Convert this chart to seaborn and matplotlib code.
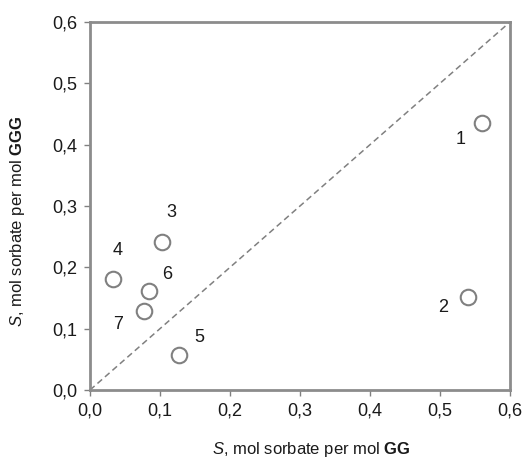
import matplotlib
matplotlib.use("Agg")
import matplotlib.pyplot as plt
import seaborn as sns
import pandas as pd

labels = ["1", "2", "3", "4", "5", "6", "7"]
s_gg = [0.560, 0.540, 0.103, 0.033, 0.127, 0.084, 0.077]
s_ggg = [0.436, 0.152, 0.241, 0.181, 0.057, 0.161, 0.129]
# label offsets (data units) relative to each point
lab_dx = [-0.031, -0.036, 0.013, 0.007, 0.029, 0.026, -0.037]
lab_dy = [-0.028, -0.018, 0.049, 0.046, 0.029, 0.028, -0.023]
ticks = [0.0, 0.1, 0.2, 0.3, 0.4, 0.5, 0.6]
tick_labels = ["0,0", "0,1", "0,2", "0,3", "0,4", "0,5", "0,6"]

sns.set_theme(style="white")
plt.rcParams['font.family'] = ['Liberation Sans', 'DejaVu Sans']
plt.rcParams['mathtext.fontset'] = 'custom'
plt.rcParams['mathtext.rm'] = 'Liberation Sans'
plt.rcParams['mathtext.it'] = 'Liberation Sans:italic'
plt.rcParams['mathtext.bf'] = 'Liberation Sans:bold'

df = pd.DataFrame({"x": s_gg, "y": s_ggg, "label": labels})

fig = plt.figure(figsize=(5.25, 4.58), dpi=100)
ax = fig.add_axes([90/525, 68/458, 420/525, 368/458])

ax.plot([0, 0.6], [0, 0.6], ls=(0, (4, 2.5)), color="#808080", lw=1.1, zorder=1)
sns.scatterplot(data=df, x="x", y="y", ax=ax, s=125, facecolor="white",
                edgecolor="#808080", linewidth=1.5, zorder=3)

for lab, x, y, dx, dy in zip(labels, s_gg, s_ggg, lab_dx, lab_dy):
    ax.text(x + dx, y + dy, lab, ha="center", va="center", fontsize=13,
            color="#1a1a1a")

ax.set_xlim(0, 0.6)
ax.set_ylim(0, 0.6)
ax.set_xticks(ticks)
ax.set_xticklabels(tick_labels)
ax.set_yticks(ticks)
ax.set_yticklabels(tick_labels)
ax.tick_params(axis="both", which="major", direction="out", length=4, width=1,
               color="#808080", labelsize=13, labelcolor="#1a1a1a", pad=5,
               bottom=True, left=True, top=False, right=False)
for sp in ax.spines.values():
    sp.set_color("#8c8c8c")
    sp.set_linewidth(2)

ax.set_xlabel(r"$\mathit{S}$, mol sorbate per mol $\mathbf{GG}$", fontsize=12,
              color="#1a1a1a")
ax.set_ylabel(r"$\mathit{S}$, mol sorbate per mol $\mathbf{GGG}$", fontsize=12,
              color="#1a1a1a")
ax.xaxis.set_label_coords(0.526, -0.135)
ax.yaxis.set_label_coords(-0.15, 0.46)

fig.savefig("out.png", dpi=100)
